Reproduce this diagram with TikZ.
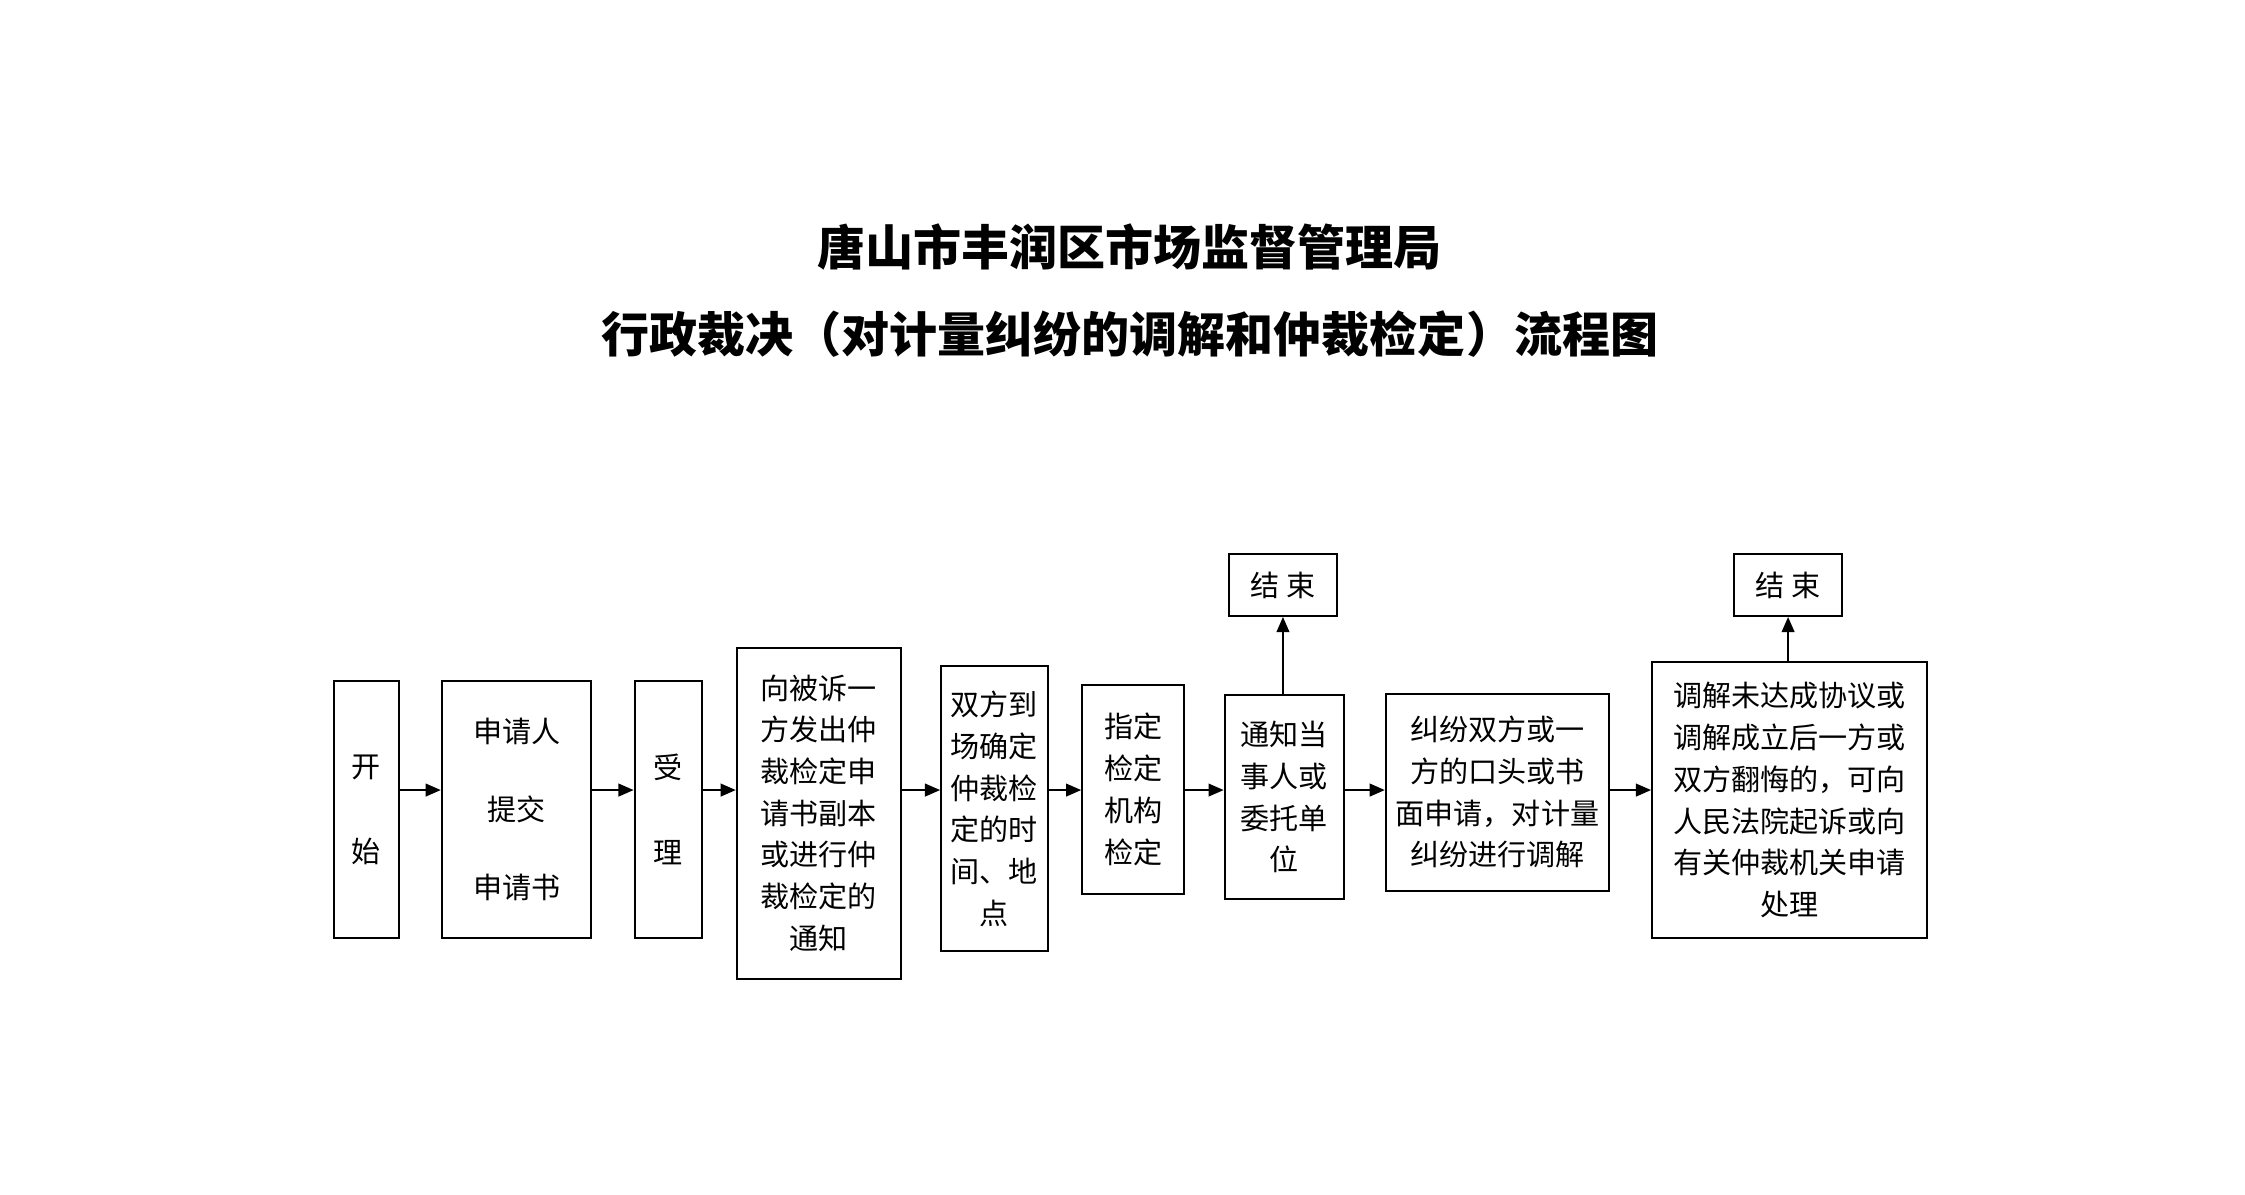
\documentclass[tikz,border=0pt]{standalone}
\usepackage{fontspec}
\setmainfont{Noto Sans CJK SC}
\usetikzlibrary{arrows.meta}
\tikzset{
  box/.style={draw,thick,align=center,inner sep=1pt,font=\fontsize{11.5}{16.5}\selectfont},
  flow/.style={-{Triangle[length=6pt,width=5pt]},thick}
}
\begin{document}
\begin{tikzpicture}
    \useasboundingbox (0,0) rectangle (31.2,16.6);
    \node[font=\bfseries\fontsize{19}{24}\selectfont] (title1) at (15.7,13.16) {唐山市丰润区市场监督管理局};
    \node[font=\bfseries\fontsize{19}{24}\selectfont] (title2) at (15.7,11.96) {行政裁决（对计量纠纷的调解和仲裁检定）流程图};

    \node[box,minimum width=0.9cm,minimum height=3.58cm,text width=0.8cm] (start) at (5.09,5.35) {开\\[0.6cm]始};
    \node[box,minimum width=2.08cm,minimum height=3.58cm,text width=1.9cm] (apply) at (7.18,5.35) {申请人\\[0.5cm]提交\\[0.5cm]申请书};
    \node[box,minimum width=0.94cm,minimum height=3.58cm,text width=0.8cm] (accept) at (9.29,5.35) {受\\[0.6cm]理};
    \node[box,minimum width=2.28cm,minimum height=4.6cm,text width=2.1cm] (notify) at (11.38,5.30) {向被诉一\\方发出仲\\裁检定申\\请书副本\\或进行仲\\裁检定的\\通知};
    \node[box,minimum width=1.48cm,minimum height=3.96cm,text width=1.4cm] (site) at (13.82,5.36) {双方到\\场确定\\仲裁检\\定的时\\间、地\\点};
    \node[box,minimum width=1.42cm,minimum height=2.9cm,text width=1.3cm] (check) at (15.75,5.63) {指定\\检定\\机构\\检定};
    \node[box,minimum width=1.66cm,minimum height=2.84cm,text width=1.5cm] (party) at (17.85,5.52) {通知当\\事人或\\委托单\\位};
    \node[box,minimum width=3.1cm,minimum height=2.74cm,text width=2.95cm] (mediate) at (20.81,5.59) {纠纷双方或一\\方的口头或书\\面申请，对计量\\纠纷进行调解};
    \node[box,minimum width=3.82cm,minimum height=3.84cm,text width=3.7cm] (court) at (24.87,5.48) {调解未达成协议或\\调解成立后一方或\\双方翻悔的，可向\\人民法院起诉或向\\有关仲裁机关申请\\处理};
    \node[box,minimum width=1.5cm,minimum height=0.86cm] (end1) at (17.83,8.47) {结\ 束};
    \node[box,minimum width=1.5cm,minimum height=0.86cm] (end2) at (24.85,8.47) {结\ 束};

    \foreach \a/\b in {start/apply,apply/accept,accept/notify,notify/site,site/check,check/party,party/mediate,mediate/court}
      \draw[flow] (\a.east |- 0,5.62) -- (\b.west |- 0,5.62);
    \draw[flow] (party.north -| end1) -- (end1.south);
    \draw[flow] (court.north -| end2) -- (end2.south);
\end{tikzpicture}
\end{document}
